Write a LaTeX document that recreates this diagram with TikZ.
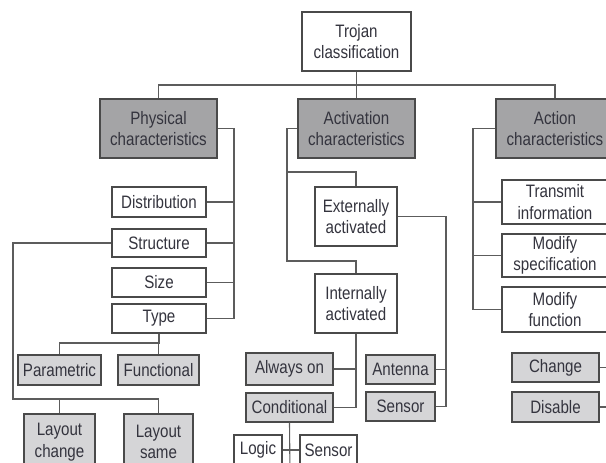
\documentclass[tikz,border=0pt]{standalone}
\usepackage{fontspec}
\setmainfont[FakeStretch=0.84]{Liberation Sans}
\usepackage{tikz}
\usetikzlibrary{positioning,calc}
\definecolor{ink}{HTML}{34343E}
\definecolor{edgegray}{HTML}{4A4A4A}
\definecolor{wiregray}{HTML}{5C5C5C}
\definecolor{darkfill}{HTML}{A4A4A6}
\definecolor{lightfill}{HTML}{D5D5D7}
\tikzset{
  box/.style={draw=edgegray,fill=white,line width=1.1pt,inner sep=0pt,
              align=center,text=ink,font=\fontsize{18}{21.5}\selectfont},
  topbox/.style={box,fill=darkfill},
  leafbox/.style={box,fill=lightfill},
  link/.style={draw=wiregray,line width=1.1pt}
}

\begin{document}
\begin{tikzpicture}[x=1pt,y=-1pt]
    \useasboundingbox (0,0) rectangle (606,463);

    \node[box,minimum width=109pt,minimum height=59pt] (trojan) at (356.5,41.5)
      {Trojan\\classification};
    \node[topbox,minimum width=117pt,minimum height=59pt] (phys) at (158.5,128.5)
      {Physical\\characteristics};
    \node[topbox,minimum width=117pt,minimum height=59pt] (activ) at (356.5,128.5)
      {Activation\\characteristics};
    \node[topbox,minimum width=118pt,minimum height=59pt] (action) at (555,128.5)
      {Action\\characteristics};

    \foreach \n/\yy/\hh/\txt in {distr/202/30/Distribution,struct/243/28/Structure,
                                 size/282.5/29/Size,type/318.5/29/Type}{
      \node[box,minimum width=94pt,minimum height=\hh pt] (\n) at (159,\yy) {\txt};
    }
    \node[leafbox,minimum width=83pt,minimum height=30pt] (param) at (59.5,370)
      {Parametric};
    \node[leafbox,minimum width=81pt,minimum height=30pt] (func) at (158.5,370)
      {Functional};
    \node[leafbox,minimum width=71pt,minimum height=56pt] (laychg) at (59.5,442)
      {Layout\\change};
    \node[leafbox,minimum width=69pt,minimum height=56pt] (laysame) at (158.5,442)
      {Layout\\same};

    \node[box,minimum width=82pt,minimum height=59pt] (ext) at (356,216.5)
      {Externally\\activated};
    \node[box,minimum width=82pt,minimum height=59pt] (int) at (356,303.5)
      {Internally\\activated};
    \node[leafbox,minimum width=87pt,minimum height=32pt] (always) at (289.5,369)
      {Always on};
    \node[leafbox,minimum width=87pt,minimum height=29pt] (cond) at (289.5,407.5)
      {Conditional};
    \node[leafbox,minimum width=69pt,minimum height=29pt] (ant) at (400.5,369.5)
      {Antenna};
    \node[leafbox,minimum width=69pt,minimum height=29pt] (sens) at (400.5,406.5)
      {Sensor};
    \node[box,minimum width=48pt,minimum height=30pt] (logic) at (258,450)
      {Logic};
    \node[box,minimum width=57pt,minimum height=30pt] (sensb) at (328.5,450)
      {Sensor};

    \node[box,minimum width=106pt,minimum height=44pt] (transmit) at (555,202)
      {Transmit\\information};
    \node[box,minimum width=106pt,minimum height=43pt] (modspec) at (555,255.5)
      {Modify\\specification};
    \node[box,minimum width=106pt,minimum height=45pt] (modfun) at (555,309.5)
      {Modify\\function};
    \node[leafbox,minimum width=87pt,minimum height=29pt] (change) at (555.5,367.5)
      {Change};
    \node[leafbox,minimum width=87pt,minimum height=30pt] (disable) at (555.5,407)
      {Disable};

    \coordinate (bus) at (356,85);
    \coordinate (pbus) at (234,0);
    \coordinate (sbus) at (13,399);
    \coordinate (tbus) at (0,343);
    \coordinate (abus1) at (287,172);
    \coordinate (abus2) at (287,261);
    \coordinate (ebus) at (446,0);
    \coordinate (cbot) at (290,475);
    \coordinate (xbus) at (473,0);
    \coordinate (rbus) at (616,0);

    \draw[link] (trojan) -- (activ);
    \draw[link] (phys.north) |- (bus) -| (action.north);

    \draw[link] (phys.east) -| (pbus |- type.east) -- (type.east);
    \foreach \n in {distr,struct,size}
      \draw[link] (\n.east) -- (\n.east -| pbus);
    \draw[link] (struct.west) -| (sbus) -| (laysame.north);
    \draw[link] (laychg.north) -- (laychg.north |- sbus);
    \draw[link] (type.south) -- (type.south |- tbus) -| (param.north);
    \draw[link] (func.north) -- (func.north |- tbus);

    \draw[link] (activ.west) -| (abus2) -| (int.north);
    \draw[link] (abus1) -| (ext.north);
    \draw[link] (ext.east) -| (ebus |- sens.east) -- (sens.east);
    \draw[link] (ant.east) -- (ant.east -| ebus);
    \draw[link] (int.south) |- (cond.east);
    \draw[link] (always.east) -- (always.east -| int.south);
    \draw[link] (cond.south) -- (cbot);
    \draw[link] (logic.east) -- (sensb.west);

    \draw[link] (action.west) -| (xbus |- modfun.west) -- (modfun.west);
    \foreach \n in {transmit,modspec}
      \draw[link] (\n.west) -- (\n.west -| xbus);
    \foreach \n in {change,disable}
      \draw[link] (\n.east) -- (\n.east -| rbus);
  \end{tikzpicture}
\end{document}
